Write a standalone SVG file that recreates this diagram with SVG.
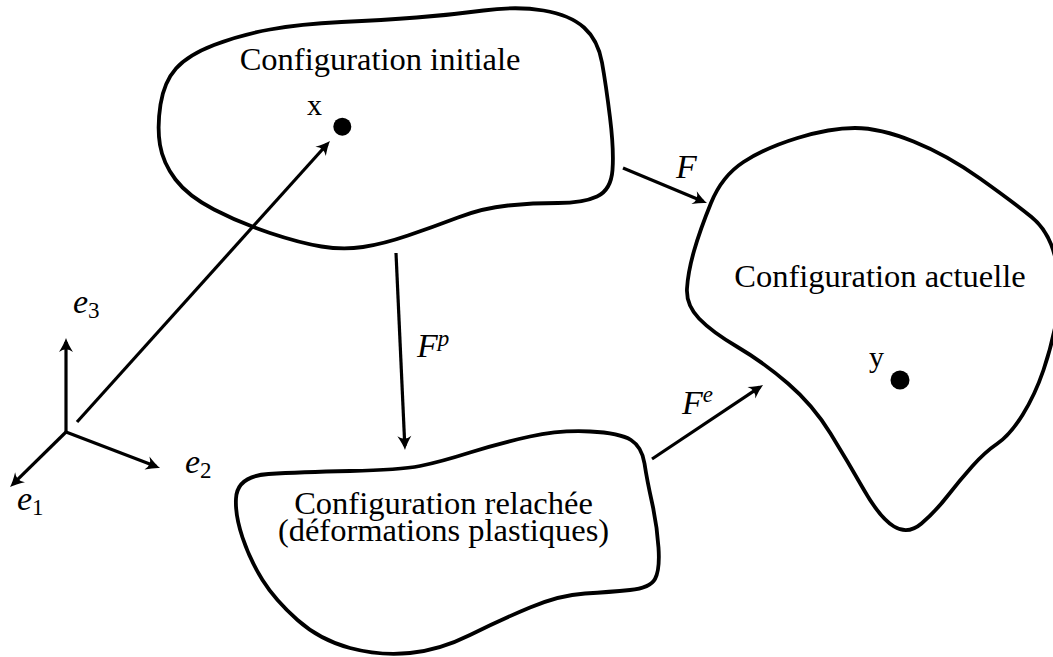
<svg xmlns="http://www.w3.org/2000/svg" width="1053" height="657" viewBox="0 0 1053 657">
<style>
.blob{fill:none;stroke:#000;stroke-width:3.8;stroke-linejoin:round}
.arr{fill:none;stroke:#000;stroke-width:3.2;marker-end:url(#ah)}
.txt{font-family:"Liberation Serif","Times New Roman",serif;font-size:32.5px;fill:#000}
.lbl{font-family:"Liberation Serif","Times New Roman",serif;font-size:30px;fill:#000}
.math{font-family:"Liberation Serif","Times New Roman",serif;font-style:italic;font-size:34px;fill:#000}
.sub{font-size:23px;font-style:normal}
.sup{font-size:23px}
</style>
<defs>
<marker id="ah" markerUnits="userSpaceOnUse" markerWidth="24" markerHeight="24" viewBox="-12 -12 24 24" refX="0" refY="0" orient="auto">
<path d="M4,0 Q-2,-2 -10,-7 Q-4.5,0 -10,7 Q-2,2 4,0 Z" fill="#000"/>
</marker>
</defs>
<g id="node-initiale">
<path class="blob" d="M160.5,104.5 Q164,82 176,68.5 Q188,55 214,45 Q240,35 270,29.5 Q300,24 341.5,22 Q383,20 416.5,17.5 Q450,15 483.5,10.5 Q517,6 543.5,10.5 Q570,15 584,27.5 Q598,40 602,62.5 Q606,85 610,117.5 Q614,150 612.5,170 Q611,190 597,196.5 Q583,203 558,203 Q533,203 508,205.5 Q483,208 458,217.5 Q433,227 408,235.5 Q383,244 363,247 Q343,250 321.5,246.5 Q300,243 270,233 Q240,223 214,209.5 Q188,196 175.5,179.5 Q163,163 160,145 Q157,127 160.5,104.5 Z"/>
<text class="txt" x="380" y="70" text-anchor="middle">Configuration initiale</text>
<text class="lbl" x="307" y="115">x</text>
<circle cx="342.3" cy="126.7" r="9"/>
</g>
<g id="node-actuelle">
<path class="blob" d="M711,203 Q722,176 743.5,162 Q765,148 797.5,138 Q830,128 855,128 Q880,128 913.5,141.5 Q947,155 980,178.5 Q1013,202 1031.5,217 Q1050,232 1056,261 Q1062,290 1057,317.5 Q1052,345 1043.5,370 Q1035,395 1022.5,415 Q1010,435 997.5,443.5 Q985,452 972.5,466 Q960,480 947.5,496 Q935,512 921.5,523.5 Q908,535 894,526.5 Q880,518 864,490 Q848,462 830.5,433.5 Q813,405 788,383.5 Q763,362 737.5,347 Q712,332 699,318.5 Q686,305 687,288.5 Q688,272 694,251 Q700,230 711,203 Z"/>
<text class="txt" x="880" y="287" text-anchor="middle">Configuration actuelle</text>
<text class="lbl" x="869" y="367">y</text>
<circle cx="900" cy="380" r="9.5"/>
</g>
<g id="node-relachee">
<path class="blob" d="M268.5,474 Q300,472 350,471 Q400,470 420,466 Q440,462 470,452.5 Q500,443 530,436.5 Q560,430 590,431.5 Q620,433 631,440 Q642,447 644.5,463.5 Q647,480 652,502.5 Q657,525 658.5,547.5 Q660,570 655,579 Q650,588 630,590 Q610,592 585,593.5 Q560,595 530,607.5 Q500,620 470,635 Q440,650 410,653 Q380,656 350,648 Q320,640 297.5,620 Q275,600 262.5,580 Q250,560 242.5,537.5 Q235,515 236,498.5 Q237,476 268.5,474 Z"/>
<text class="txt" x="443.5" y="514" text-anchor="middle">Configuration relachée</text>
<text class="txt" x="443.5" y="541" text-anchor="middle">(déformations plastiques)</text>
</g>
<g id="axes">
<line class="arr" x1="66" y1="432" x2="66" y2="342"/>
<line class="arr" x1="66" y1="432" x2="156.3" y2="466.6"/>
<line class="arr" x1="66" y1="432" x2="12.9" y2="484.2"/>
<text class="math" x="73" y="313">e<tspan class="sub" dy="5">3</tspan></text>
<text class="math" x="185" y="473">e<tspan class="sub" dy="5">2</tspan></text>
<text class="math" x="17" y="510">e<tspan class="sub" dy="5">1</tspan></text>
</g>
<g id="connectors">
<line class="arr" x1="77" y1="422" x2="327.3" y2="144"/>
<line class="arr" x1="623" y1="168" x2="703.3" y2="201.5"/>
<line class="arr" x1="396" y1="253" x2="404.8" y2="446"/>
<line class="arr" x1="652" y1="459" x2="759.7" y2="387.2"/>
<text class="math" x="676" y="178">F</text>
<text class="math" x="417" y="357">F<tspan class="sup" dy="-11">p</tspan></text>
<text class="math" x="682" y="414">F<tspan class="sup" dy="-12">e</tspan></text>
</g>
</svg>
